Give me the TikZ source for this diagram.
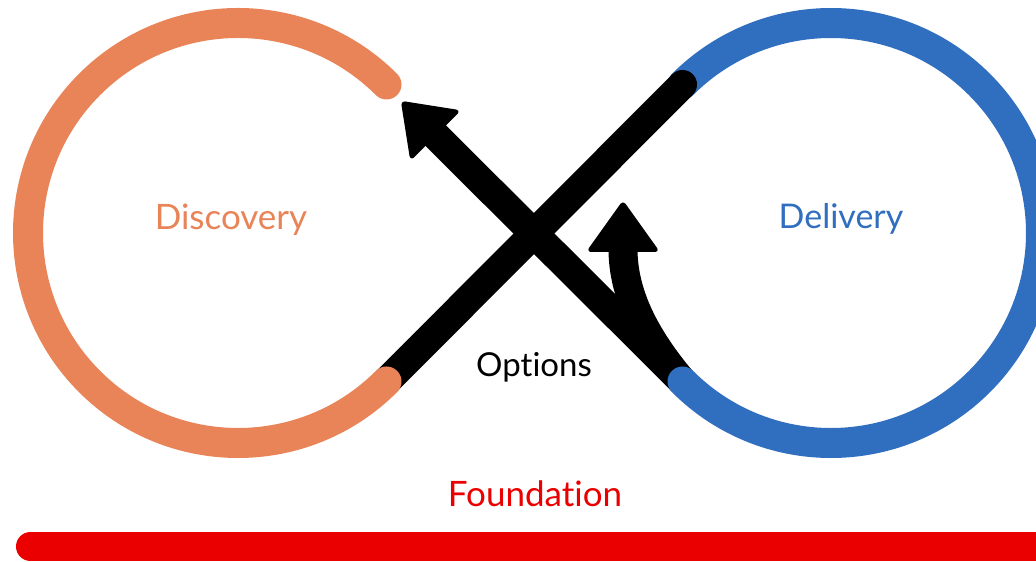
\documentclass[tikz,border=0pt]{standalone}
\usepackage{fontspec}
\setmainfont{Lato}[Ligatures={NoCommon,NoRare,NoContextual}]
\usetikzlibrary{calc}
\definecolor{discorange}{RGB}{233,132,88}
\definecolor{delivblue}{RGB}{48,110,191}
\definecolor{foundred}{RGB}{234,0,0}
\begin{document}
\begin{tikzpicture}[x=1pt,y=1pt,
  ring/.style={line width=30pt,line cap=round},
  flow/.style={line width=29pt,line cap=round,draw=black},
  headtri/.style={fill=black,draw=black,line width=2pt,rounded corners=3pt,line join=round},
  lbl/.style={inner sep=0pt,anchor=base}]
\useasboundingbox (0,0) rectangle (1036,562);
\clip (0,0) rectangle (1036,562);
\fill[white] (0,0) rectangle (1036,562);
% key points
\coordinate (oTop) at (386.5,477.5);
\coordinate (oBot) at (386.5,180.5);
\coordinate (bTop) at (682.5,477.5);
\coordinate (bBot) at (682.5,180.5);
\coordinate (aBase) at (435,427);
\coordinate (aTip) at (402,460);
\coordinate (aW1) at (459,451);
\coordinate (aW2) at (411,403);
\coordinate (cBase) at (623,311);
\coordinate (cTip) at (623,360);
\coordinate (cW1) at (588,311);
\coordinate (cW2) at (658,311);
% second diagonal with arrow back to discovery
\draw[flow,line cap=butt] (bBot) -- ($(aBase)+(-2,2)$);
\filldraw[headtri] (aTip) -- (aW1) -- (aW2) -- cycle;
% curved branch back to delivery
\draw[flow,line cap=butt] (bBot) .. controls (645,225) and (623,268) .. ($(cBase)+(0,2)$);
\filldraw[headtri] (cTip) -- (cW2) -- (cW1) -- cycle;
% delivery ring
\draw[ring,delivblue] (bBot) arc[start angle=-135,end angle=135,radius=210];
% first diagonal
\draw[flow] (oBot) -- (bTop);
% discovery ring
\draw[ring,discorange] (oTop) arc[start angle=45,end angle=315,radius=210];
% foundation bar
\coordinate (barL) at (30.5,15.5);
\coordinate (barR) at (1070,15.5);
\draw[line width=29pt,line cap=round,foundred] (barL) -- (barR);
% labels
\node[lbl,text=discorange,font=\fontsize{35}{40}\selectfont] (disc) at (231,332) {Discovery};
\node[lbl,text=delivblue,font=\fontsize{34}{40}\selectfont] (deliv) at (841,333) {Delivery};
\node[lbl,text=black,font=\fontsize{33}{38}\selectfont] (opt) at (534,185) {Options};
\node[lbl,text=foundred,font=\fontsize{35}{40}\selectfont] (found) at (535,55) {Foundation};
\end{tikzpicture}
\end{document}
